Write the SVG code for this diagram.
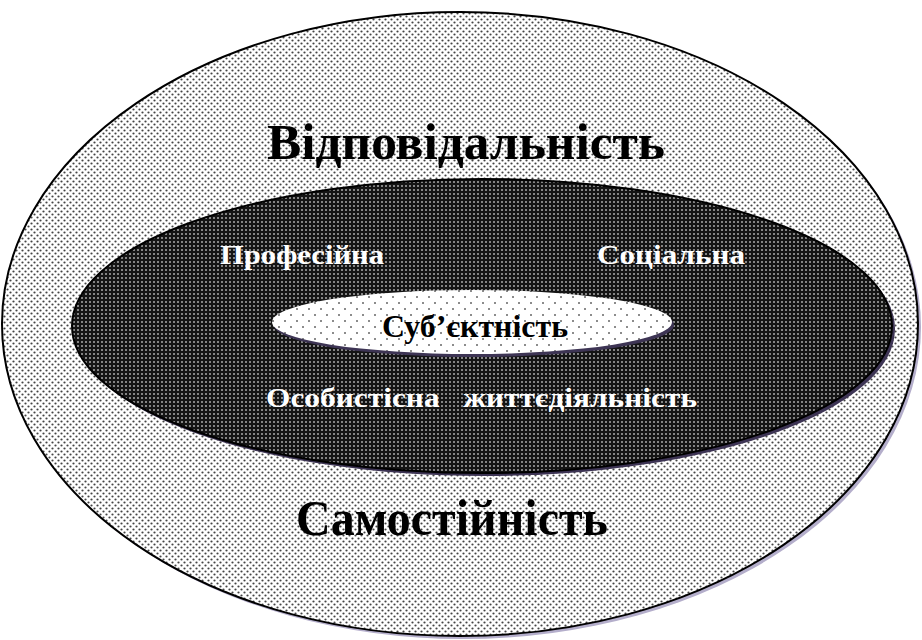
<svg xmlns="http://www.w3.org/2000/svg" width="922" height="640" viewBox="0 0 922 640">
<defs>
<pattern id="pOuter" width="6" height="6" patternUnits="userSpaceOnUse">
<rect width="6" height="6" fill="#fff"/>
<circle cx="1.5" cy="1.5" r="1.1" fill="#444"/>
<circle cx="4.5" cy="4.5" r="1.1" fill="#444"/>
</pattern>
<pattern id="pMid" width="4" height="4" patternUnits="userSpaceOnUse">
<rect width="4" height="4" fill="#151515"/>
<circle cx="2" cy="2" r="1" fill="#aaa"/>
</pattern>
<pattern id="pInner" width="12" height="12" patternUnits="userSpaceOnUse">
<rect width="12" height="12" fill="#fff"/>
<circle cx="3" cy="3" r="1" fill="#666"/>
<circle cx="9" cy="9" r="1" fill="#666"/>
</pattern>
</defs>
<style>
.big{font-family:"Liberation Serif","DejaVu Serif",serif;font-weight:bold;font-size:50px;fill:#000}
.lbl{font-family:"Liberation Serif","DejaVu Serif",serif;font-weight:bold;font-size:28px;fill:#fff}
.core{font-family:"Liberation Serif","DejaVu Serif",serif;font-weight:bold;font-size:31px;fill:#000}
</style>
<g id="outer">
<ellipse cx="463" cy="327" rx="458" ry="312" fill="#b4aecb"/>
<ellipse cx="460" cy="324" rx="458" ry="312" fill="url(#pOuter)" stroke="#000" stroke-width="2"/>
<text class="big" x="466" y="159" text-anchor="middle" textLength="398" lengthAdjust="spacingAndGlyphs">Відповідальність</text>
<text class="big" x="452" y="535" text-anchor="middle" textLength="312" lengthAdjust="spacingAndGlyphs">Самостійність</text>
</g>
<g id="middle">
<ellipse cx="485" cy="329" rx="410" ry="147" fill="#3d3454"/>
<ellipse cx="482" cy="326" rx="410" ry="147" fill="url(#pMid)" stroke="#000" stroke-width="2"/>
<text class="lbl" x="220" y="264" textLength="164" lengthAdjust="spacingAndGlyphs">Професійна</text>
<text class="lbl" x="597" y="264" textLength="148" lengthAdjust="spacingAndGlyphs">Соціальна</text>
<text class="lbl" x="266" y="407" textLength="431" lengthAdjust="spacingAndGlyphs" xml:space="preserve">Особистісна   життєдіяльність</text>
</g>
<g id="inner">
<ellipse cx="474" cy="325" rx="200" ry="32" fill="#3d3454"/>
<ellipse cx="472" cy="322" rx="200" ry="32" fill="url(#pInner)"/>
<text class="core" x="382" y="337" textLength="186" lengthAdjust="spacingAndGlyphs">Суб’єктність</text>
</g>
<g id="connectors"/>
</svg>
